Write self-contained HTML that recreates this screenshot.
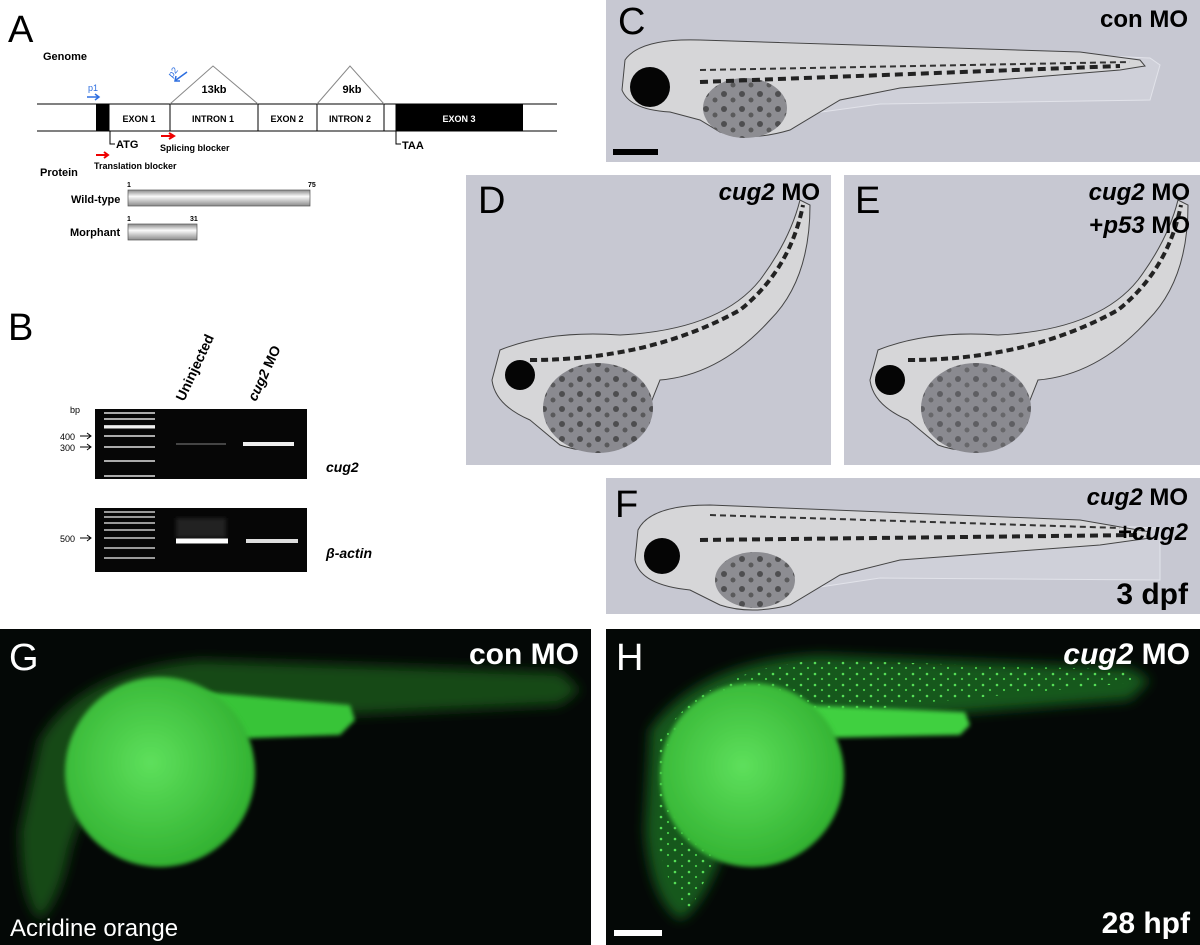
<!DOCTYPE html>
<html><head><meta charset="utf-8"><style>
body{margin:0;background:#fff;}
svg{display:block;font-family:"Liberation Sans",Arial,sans-serif;}
</style></head><body>
<svg width="1200" height="945" viewBox="0 0 1200 945" xmlns="http://www.w3.org/2000/svg">
<defs>
<linearGradient id="bar" x1="0" y1="0" x2="0" y2="1"><stop offset="0" stop-color="#888"/><stop offset="0.4" stop-color="#fafafa"/><stop offset="1" stop-color="#8a8a8a"/></linearGradient>
<radialGradient id="yolkg" cx="0.45" cy="0.45" r="0.6"><stop offset="0" stop-color="#5ee05c"/><stop offset="1" stop-color="#2fae2e"/></radialGradient>
<filter id="blur"><feGaussianBlur stdDeviation="6"/></filter>
<filter id="blur2"><feGaussianBlur stdDeviation="2"/></filter>
<pattern id="spk" width="14" height="11" patternUnits="userSpaceOnUse"><circle cx="3" cy="3" r="1.3" fill="#6f6"/><circle cx="10" cy="8" r="1.1" fill="#5e5"/></pattern>
<pattern id="pig" width="18" height="15" patternUnits="userSpaceOnUse"><circle cx="4" cy="4" r="3" fill="#333"/><circle cx="13" cy="10" r="2.5" fill="#444"/></pattern>
</defs>
<rect width="1200" height="945" fill="#fff"/>
<!-- Panel A -->
<text x="8" y="42" font-size="38">A</text>
<text x="43" y="60" font-size="11" font-weight="bold">Genome</text>
<line x1="37" y1="104" x2="557" y2="104" stroke="#000"/>
<line x1="37" y1="131" x2="557" y2="131" stroke="#000"/>
<rect x="96" y="104" width="13" height="27" fill="#000"/>
<rect x="109" y="104" width="61" height="27" fill="#fff" stroke="#000"/>
<text x="139" y="122" font-size="9" font-weight="bold" text-anchor="middle">EXON 1</text>
<text x="213" y="122" font-size="9" font-weight="bold" text-anchor="middle">INTRON 1</text>
<rect x="258" y="104" width="59" height="27" fill="#fff" stroke="#000"/>
<text x="287" y="122" font-size="9" font-weight="bold" text-anchor="middle">EXON 2</text>
<text x="350" y="122" font-size="9" font-weight="bold" text-anchor="middle">INTRON 2</text>
<rect x="384" y="104" width="12" height="27" fill="#fff" stroke="#000"/>
<rect x="396" y="104" width="127" height="27" fill="#000"/>
<text x="459" y="122" font-size="9" font-weight="bold" fill="#fff" text-anchor="middle">EXON 3</text>
<polyline points="170,104 213,66 258,104" fill="none" stroke="#888"/>
<polyline points="317,104 350,66 384,104" fill="none" stroke="#888"/>
<text x="214" y="93" font-size="11" font-weight="bold" text-anchor="middle">13kb</text>
<text x="352" y="93" font-size="11" font-weight="bold" text-anchor="middle">9kb</text>
<text x="88" y="91" font-size="9" fill="#2d6ee0">p1</text>
<path d="M87 97 L98 97 M95 94 L99 97 L95 100" stroke="#2d6ee0" fill="none" stroke-width="1.5"/>
<text x="172" y="78" font-size="9" fill="#2d6ee0" transform="rotate(-50 172 78)">p2</text>
<path d="M187 72 L176 80 M176 76 L175 81 L180 81" stroke="#2d6ee0" fill="none" stroke-width="1.5"/>
<path d="M110 131 L110 144 L115 144" stroke="#000" fill="none"/>
<text x="116" y="148" font-size="11" font-weight="bold">ATG</text>
<path d="M96 155 L107 155 M104 152 L108 155 L104 158" stroke="#e00" fill="none" stroke-width="2"/>
<text x="94" y="169" font-size="9" font-weight="bold">Translation blocker</text>
<path d="M161 136 L173 136 M169 133 L174 136 L169 139" stroke="#e00" fill="none" stroke-width="2"/>
<text x="160" y="151" font-size="9" font-weight="bold">Splicing blocker</text>
<path d="M396 131 L396 144 L401 144" stroke="#000" fill="none"/>
<text x="402" y="149" font-size="11" font-weight="bold">TAA</text>
<text x="40" y="176" font-size="11" font-weight="bold">Protein</text>
<text x="127" y="187" font-size="7" font-weight="bold">1</text>
<text x="308" y="187" font-size="7" font-weight="bold">75</text>
<text x="71" y="203" font-size="11" font-weight="bold">Wild-type</text>
<rect x="128" y="190" width="182" height="16" fill="url(#bar)" stroke="#555" stroke-width="0.7"/>
<text x="127" y="221" font-size="7" font-weight="bold">1</text>
<text x="190" y="221" font-size="7" font-weight="bold">31</text>
<text x="70" y="236" font-size="11" font-weight="bold">Morphant</text>
<rect x="128" y="224" width="69" height="16" fill="url(#bar)" stroke="#555" stroke-width="0.7"/>
<!-- Panel B -->
<text x="8" y="340" font-size="38">B</text>
<text x="184" y="402" font-size="14" font-weight="bold" transform="rotate(-65 184 402)">Uninjected</text>
<text x="256" y="402" font-size="14" font-weight="bold" transform="rotate(-65 256 402)"><tspan font-style="italic">cug2</tspan> MO</text>
<text x="70" y="413" font-size="9">bp</text>
<text x="60" y="440" font-size="9">400</text>
<text x="60" y="451" font-size="9">300</text>
<path d="M80 436 L90 436 M87 433 L91 436 L87 439 M80 447 L90 447 M87 444 L91 447 L87 450" stroke="#000" fill="none"/>
<rect x="95" y="409" width="212" height="70" fill="#060606"/>
<g stroke="#aaa" stroke-width="2">
<line x1="104" y1="413" x2="155" y2="413"/><line x1="104" y1="419" x2="155" y2="419"/><line x1="104" y1="426" x2="155" y2="426"/>
<line x1="104" y1="436" x2="155" y2="436"/><line x1="104" y1="447" x2="155" y2="447"/><line x1="104" y1="461" x2="155" y2="461"/><line x1="104" y1="476" x2="155" y2="476"/>
</g>
<line x1="104" y1="427" x2="155" y2="427" stroke="#eee" stroke-width="3"/>
<line x1="176" y1="444" x2="226" y2="444" stroke="#444" stroke-width="2"/>
<line x1="243" y1="444" x2="294" y2="444" stroke="#eee" stroke-width="4"/>
<text x="326" y="472" font-size="14" font-weight="bold" font-style="italic">cug2</text>
<text x="60" y="542" font-size="9">500</text>
<path d="M80 538 L90 538 M87 535 L91 538 L87 541" stroke="#000" fill="none"/>
<rect x="95" y="508" width="212" height="64" fill="#060606"/>
<g stroke="#999" stroke-width="2">
<line x1="104" y1="512" x2="155" y2="512"/><line x1="104" y1="517" x2="155" y2="517"/><line x1="104" y1="523" x2="155" y2="523"/><line x1="104" y1="530" x2="155" y2="530"/>
<line x1="104" y1="538" x2="155" y2="538"/><line x1="104" y1="548" x2="155" y2="548"/><line x1="104" y1="558" x2="155" y2="558"/>
</g>
<rect x="176" y="518" width="50" height="20" fill="#222" filter="url(#blur2)"/>
<line x1="176" y1="541" x2="228" y2="541" stroke="#fff" stroke-width="5"/>
<line x1="246" y1="541" x2="298" y2="541" stroke="#ddd" stroke-width="4"/>
<text x="326" y="558" font-size="14" font-weight="bold" font-style="italic">β-actin</text>

<!-- Panel C -->
<rect x="606" y="0" width="594" height="162" fill="#c7c8d2"/>
<path d="M780 42 L1150 58 L1160 65 L1150 100 L880 104 L800 115 Z" fill="#cfd0d9" stroke="#e2e3ea"/>
<path d="M625 60 Q640 38 700 40 L1080 52 L1140 60 L1145 66 L1120 70 L900 88 L880 92 L840 100 L790 130 Q750 142 720 132 L700 120 L670 112 Q630 110 622 90 Z" fill="#d6d6d8" stroke="#444"/>
<ellipse cx="745" cy="108" rx="42" ry="30" fill="#8d8d92"/>
<ellipse cx="745" cy="108" rx="42" ry="30" fill="url(#pig)" opacity="0.7"/>
<path d="M700 70 L1130 62" stroke="#333" stroke-width="2" stroke-dasharray="6 4"/>
<path d="M700 82 L1120 66" stroke="#222" stroke-width="4" stroke-dasharray="8 5"/>
<circle cx="650" cy="87" r="20" fill="#050505"/>
<rect x="613" y="149" width="45" height="6" fill="#000"/>
<text x="618" y="34" font-size="38">C</text>
<text x="1188" y="27" font-size="24" font-weight="bold" text-anchor="end">con MO</text>

<!-- Panel D -->
<rect x="466" y="175" width="365" height="290" fill="#c7c8d2"/>
<path d="M500 350 Q550 330 620 335 Q720 330 760 280 Q790 240 800 200 L810 205 Q810 280 770 320 Q720 375 660 380 L640 430 Q600 460 560 445 L530 420 Q495 405 492 380 Z" fill="#d6d6d8" stroke="#444"/>
<ellipse cx="598" cy="408" rx="55" ry="45" fill="#8a8a90"/>
<ellipse cx="598" cy="408" rx="55" ry="45" fill="url(#pig)" opacity="0.7"/>
<path d="M530 360 Q650 360 740 310 Q790 270 803 205" stroke="#222" stroke-width="4" fill="none" stroke-dasharray="7 4"/>
<circle cx="520" cy="375" r="15" fill="#050505"/>
<text x="478" y="213" font-size="38">D</text>
<text x="820" y="200" font-size="24" font-weight="bold" text-anchor="end"><tspan font-style="italic">cug2</tspan> MO</text>

<!-- Panel E -->
<rect x="844" y="175" width="356" height="290" fill="#c7c8d2"/>
<path d="M878 350 Q928 330 998 335 Q1098 330 1138 280 Q1168 240 1178 200 L1188 205 Q1188 280 1148 320 Q1098 375 1038 380 L1018 430 Q978 460 938 445 L908 420 Q873 405 870 380 Z" fill="#d6d6d8" stroke="#444"/>
<ellipse cx="976" cy="408" rx="55" ry="45" fill="#8a8a90"/>
<ellipse cx="976" cy="408" rx="55" ry="45" fill="url(#pig)" opacity="0.5"/>
<path d="M908 360 Q1028 360 1118 310 Q1168 270 1181 205" stroke="#222" stroke-width="4" fill="none" stroke-dasharray="7 4"/>
<circle cx="890" cy="380" r="15" fill="#050505"/>
<text x="855" y="213" font-size="38">E</text>
<text x="1190" y="200" font-size="24" font-weight="bold" text-anchor="end"><tspan font-style="italic">cug2</tspan> MO</text>
<text x="1190" y="233" font-size="24" font-weight="bold" text-anchor="end">+<tspan font-style="italic">p53</tspan> MO</text>

<!-- Panel F -->
<rect x="606" y="478" width="594" height="136" fill="#c7c8d2"/>
<path d="M800 515 L1160 528 L1160 580 L880 578 L800 590 Z" fill="#cfd0d9" stroke="#e2e3ea"/>
<path d="M638 530 Q650 505 710 505 L1080 520 L1150 532 L1150 538 L1100 545 L900 560 L840 575 L790 605 Q750 615 720 605 L690 590 Q640 585 635 560 Z" fill="#d6d6d8" stroke="#444"/>
<ellipse cx="755" cy="580" rx="40" ry="28" fill="#8d8d92"/>
<ellipse cx="755" cy="580" rx="40" ry="28" fill="url(#pig)" opacity="0.7"/>
<path d="M700 540 L1140 535" stroke="#222" stroke-width="4" stroke-dasharray="8 5"/>
<path d="M710 515 L1120 528" stroke="#333" stroke-width="2" stroke-dasharray="6 4"/>
<circle cx="662" cy="556" r="18" fill="#050505"/>
<text x="615" y="517" font-size="38">F</text>
<text x="1188" y="505" font-size="24" font-weight="bold" text-anchor="end"><tspan font-style="italic">cug2</tspan> MO</text>
<text x="1188" y="540" font-size="24" font-weight="bold" text-anchor="end">+<tspan font-style="italic">cug2</tspan></text>
<text x="1188" y="604" font-size="30" font-weight="bold" text-anchor="end">3 dpf</text>

<!-- Panel G -->
<rect x="0" y="629" width="591" height="316" fill="#040806"/>
<path d="M40 740 Q80 670 200 660 L560 672 L580 690 L560 705 L230 720 L150 740 Q90 780 70 850 Q60 900 40 920 Q20 900 20 830 Z" fill="#154a15" filter="url(#blur)"/>
<path d="M180 690 L350 705 L355 720 L340 735 L200 740 Z" fill="#38c438" filter="url(#blur2)"/>
<circle cx="160" cy="772" r="95" fill="url(#yolkg)" filter="url(#blur2)"/>
<text x="9" y="670" font-size="38" fill="#fff">G</text>
<text x="579" y="664" font-size="30" font-weight="bold" fill="#fff" text-anchor="end">con MO</text>
<text x="10" y="936" font-size="24" fill="#fff">Acridine orange</text>

<!-- Panel H -->
<rect x="606" y="629" width="594" height="316" fill="#040806"/>
<path d="M650 730 Q700 660 820 655 L1130 668 L1150 680 L1130 700 L900 718 L820 730 Q740 780 720 860 Q700 910 680 920 Q650 900 645 830 Z" fill="#18581a" filter="url(#blur)"/>
<path d="M660 740 Q700 670 820 660 L1130 670 L1140 682 L900 705 L820 720 Q740 770 715 860 L690 910 Q660 880 655 820 Z" fill="url(#spk)" opacity="0.8"/>
<path d="M800 705 L965 712 L970 725 L960 735 L820 738 Z" fill="#40d040" filter="url(#blur2)"/>
<circle cx="752" cy="775" r="92" fill="url(#yolkg)" filter="url(#blur2)"/>
<rect x="614" y="930" width="48" height="6" fill="#fff"/>
<text x="616" y="670" font-size="38" fill="#fff">H</text>
<text x="1190" y="664" font-size="30" font-weight="bold" fill="#fff" text-anchor="end"><tspan font-style="italic">cug2</tspan> MO</text>
<text x="1190" y="933" font-size="30" font-weight="bold" fill="#fff" text-anchor="end">28 hpf</text>
</svg>
</body></html>
